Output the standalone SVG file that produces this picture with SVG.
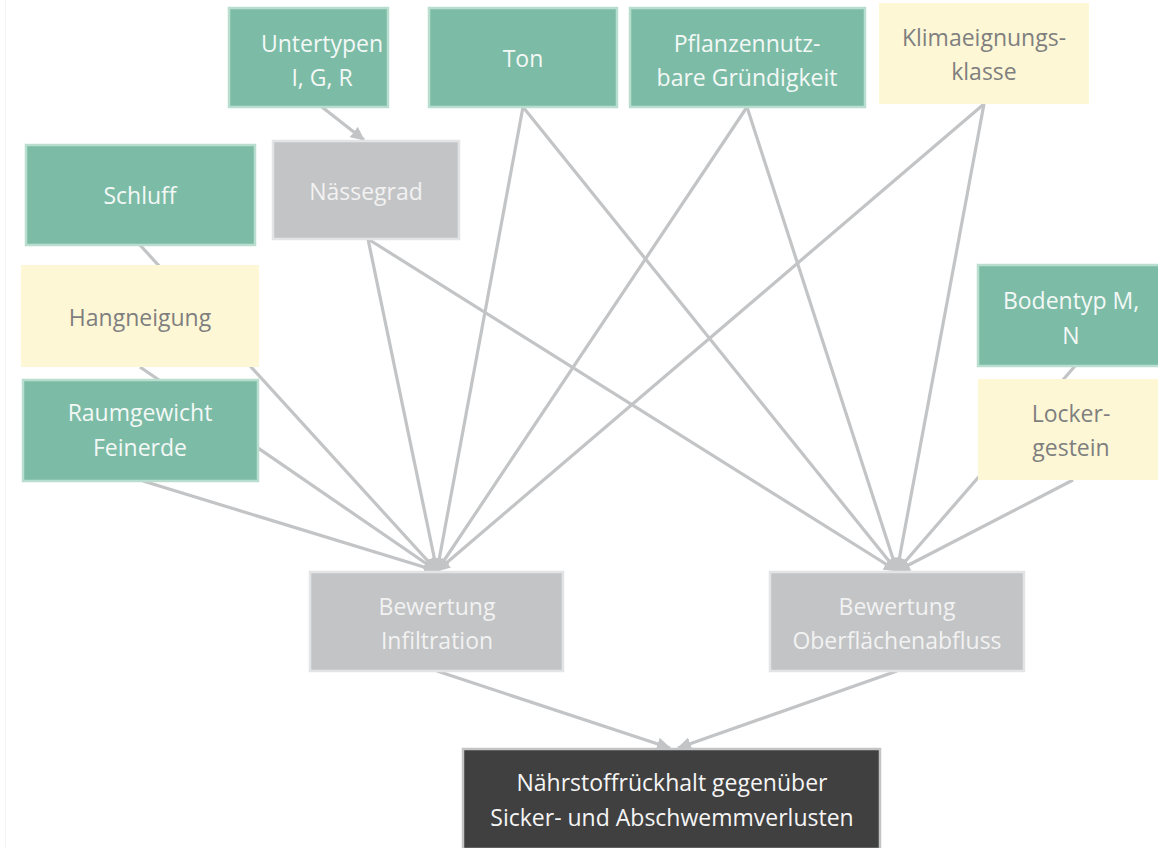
<svg xmlns="http://www.w3.org/2000/svg" width="1158" height="848" viewBox="0 0 1158 848">
<style>
.g{fill:#7cbca6;stroke:#b9ddcf;stroke-width:2.5}
.y{fill:#fef7d6}
.gr{fill:#c3c4c6;stroke:#e3e4e5;stroke-width:2.5}
.dk{fill:#404040;stroke:#c3c4c6;stroke-width:2.5}
text{font-family:"Open Sans",Lato,"DejaVu Sans",sans-serif;font-size:23px;text-anchor:middle}
.tw{fill:#f3f8f6}
.ty{fill:#7f7f7f}
.tg{fill:#f2f2f2}
.td{fill:#f5f5f5}
.c line{stroke:#c3c4c6;stroke-width:3.2;marker-end:url(#ah)}
</style>
<defs>
<marker id="ah" markerUnits="userSpaceOnUse" markerWidth="15" markerHeight="13" refX="13" refY="6.5" orient="auto">
<path d="M0,0 L14,6.5 L0,13 z" fill="#c3c4c6"/>
</marker>
</defs>
<rect width="1158" height="848" fill="#ffffff"/>
<line x1="5.5" y1="0" x2="5.5" y2="848" stroke="#f4f4f4" stroke-width="1"/>
<g id="connectors" class="c">
<line x1="322" y1="107" x2="364" y2="140"/>
<line x1="140" y1="245" x2="437" y2="571"/>
<line x1="140" y1="367" x2="437" y2="571"/>
<line x1="143" y1="481" x2="437" y2="571"/>
<line x1="368" y1="239" x2="437" y2="571"/>
<line x1="523" y1="107" x2="437" y2="571"/>
<line x1="747" y1="107" x2="437" y2="571"/>
<line x1="984" y1="104" x2="437" y2="571"/>
<line x1="368" y1="239" x2="897" y2="571"/>
<line x1="523" y1="107" x2="897" y2="571"/>
<line x1="747" y1="107" x2="897" y2="571"/>
<line x1="984" y1="104" x2="897" y2="571"/>
<line x1="1075" y1="366" x2="897" y2="571"/>
<line x1="1073" y1="480" x2="897" y2="571"/>
<line x1="437" y1="671" x2="670" y2="748"/>
<line x1="897" y1="671" x2="678" y2="748"/>
</g>
<g id="untertypen"><rect class="g" x="229" y="8" width="159" height="99"/><text class="tw" x="322" y="52">Untertypen</text><text class="tw" x="322" y="86">I, G, R</text></g>
<g id="ton"><rect class="g" x="429" y="8" width="188" height="99"/><text class="tw" x="523" y="67">Ton</text></g>
<g id="pflanzen"><rect class="g" x="630" y="8" width="235" height="99"/><text class="tw" x="747" y="52">Pflanzennutz-</text><text class="tw" x="747" y="86">bare Gründigkeit</text></g>
<g id="klima"><rect class="y" x="879" y="3" width="210" height="101"/><text class="ty" x="984" y="46">Klimaeignungs-</text><text class="ty" x="984" y="80">klasse</text></g>
<g id="schluff"><rect class="g" x="26" y="145" width="229" height="100"/><text class="tw" x="140" y="204">Schluff</text></g>
<g id="naessegrad"><rect class="gr" x="273" y="141" width="186" height="98"/><text class="tg" x="366" y="200">Nässegrad</text></g>
<g id="hangneigung"><rect class="y" x="21" y="265" width="238" height="102"/><text class="ty" x="140" y="326">Hangneigung</text></g>
<g id="raumgewicht"><rect class="g" x="23" y="380" width="235" height="101"/><text class="tw" x="140" y="421">Raumgewicht</text><text class="tw" x="140" y="456">Feinerde</text></g>
<g id="bodentyp"><rect class="g" x="978" y="265" width="182" height="101"/><text class="tw" x="1071" y="309">Bodentyp M,</text><text class="tw" x="1071" y="344">N</text></g>
<g id="locker"><rect class="y" x="978" y="379" width="180" height="101"/><text class="ty" x="1071" y="422">Locker-</text><text class="ty" x="1071" y="456">gestein</text></g>
<g id="infiltration"><rect class="gr" x="310" y="572" width="253" height="99"/><text class="tg" x="437" y="615">Bewertung</text><text class="tg" x="437" y="649">Infiltration</text></g>
<g id="oberflaeche"><rect class="gr" x="770" y="572" width="254" height="99"/><text class="tg" x="897" y="615">Bewertung</text><text class="tg" x="897" y="649">Oberflächenabfluss</text></g>
<g id="naehrstoff"><rect class="dk" x="463" y="749" width="417" height="100"/><text class="td" x="672" y="791">Nährstoffrückhalt gegenüber</text><text class="td" x="672" y="826">Sicker- und Abschwemmverlusten</text></g>
</svg>
